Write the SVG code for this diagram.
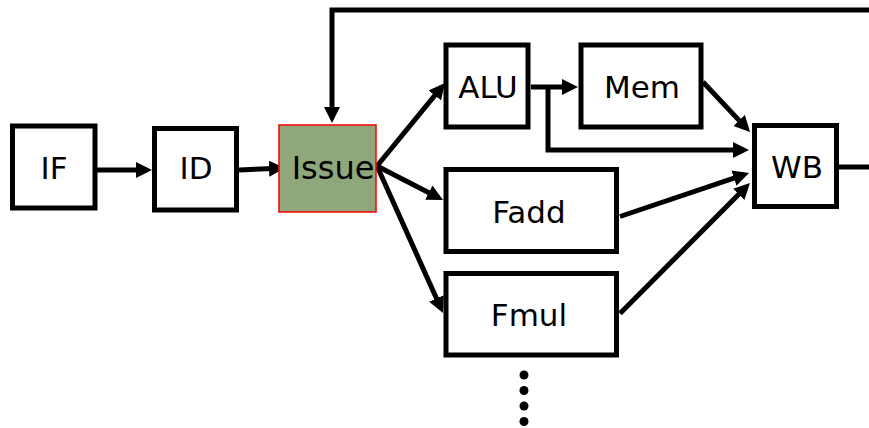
<svg xmlns="http://www.w3.org/2000/svg" width="869" height="428" viewBox="0 0 869 428">
<style>
.box{fill:#fff;stroke:#000;stroke-width:5}
.lbl{font-family:"DejaVu Sans","Verdana",sans-serif;font-size:31px;fill:#000;text-anchor:middle}
.ln{fill:none;stroke:#000;stroke-width:5;stroke-linejoin:miter}
.arr{marker-end:url(#ah)}
</style>
<defs>
<marker id="ah" markerUnits="userSpaceOnUse" markerWidth="16" markerHeight="16" refX="11" refY="8" orient="auto" viewBox="0 0 16 16">
<path d="M0,0 L16,8 L0,16 z" fill="#000"/>
</marker>
</defs>
<rect width="869" height="428" fill="#fff"/>
<g id="connectors">
<line class="ln arr" x1="97" y1="170" x2="147" y2="170"/>
<line class="ln arr" x1="239" y1="170" x2="280" y2="168.2"/>
<polyline class="ln arr" points="869,10 332,10 332,118"/>
<line class="ln arr" x1="377" y1="166" x2="441.8" y2="86.9"/>
<line class="ln arr" x1="377" y1="166" x2="438.6" y2="197.7"/>
<line class="ln arr" x1="377" y1="166" x2="441" y2="308.4"/>
<line class="ln arr" x1="531" y1="87" x2="573" y2="87"/>
<polyline class="ln arr" points="548,87 548,150 744,150"/>
<line class="ln arr" x1="703" y1="82" x2="746.6" y2="128.4"/>
<line class="ln arr" x1="620" y1="216.5" x2="744.3" y2="174.6"/>
<line class="ln arr" x1="620" y1="313.5" x2="746.5" y2="186.5"/>
<line class="ln" x1="839" y1="167" x2="869" y2="167"/>
</g>
<g id="IF"><rect class="box" x="12.5" y="126" width="82.5" height="82"/><text class="lbl" x="54" y="179">IF</text></g>
<g id="ID"><rect class="box" x="154.5" y="128.5" width="82" height="81.5"/><text class="lbl" x="196" y="179">ID</text></g>
<g id="Issue"><rect x="279" y="125" width="97" height="87" fill="#8fa77b" stroke="#ff0000" stroke-width="1.5"/><text class="lbl" x="333" y="179" style="font-size:32px">Issue</text></g>
<g id="ALU"><rect class="box" x="446" y="45" width="82" height="82"/><text class="lbl" x="488" y="98">ALU</text></g>
<g id="Mem"><rect class="box" x="581" y="45" width="120" height="82"/><text class="lbl" x="642" y="98">Mem</text></g>
<g id="WB"><rect class="box" x="754.5" y="125.5" width="82" height="81"/><text class="lbl" x="797" y="178">WB</text></g>
<g id="Fadd"><rect class="box" x="446" y="169.5" width="170.5" height="82"/><text class="lbl" x="529" y="223">Fadd</text></g>
<g id="Fmul"><rect class="box" x="446" y="273.5" width="170.5" height="81.5"/><text class="lbl" x="529" y="326">Fmul</text></g>
<g id="ellipsis" fill="#000">
<circle cx="524" cy="375" r="4.5"/>
<circle cx="524" cy="390.5" r="4.5"/>
<circle cx="524" cy="406" r="4.5"/>
<circle cx="524" cy="421.5" r="4.5"/>
</g>
</svg>
